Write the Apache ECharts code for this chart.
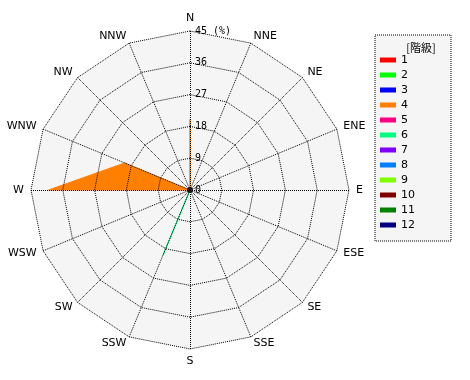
<!DOCTYPE html>
<html><head><meta charset="utf-8">
<script src="https://cdn.jsdelivr.net/npm/echarts@6/dist/echarts.min.js"></script>
<style>html,body{margin:0;padding:0;background:#fff}#c{width:470px;height:380px}</style>
</head><body><div id="c"></div>
<script>
// Directions in clockwise order starting from North
const directions = ['N','NNE','NE','ENE','E','ESE','SE','SSE','S','SSW','SW','WSW','W','WNW','NW','NNW'];
const radiusTicks = [0, 9, 18, 27, 36, 45];
const classNames = ['1','2','3','4','5','6','7','8','9','10','11','12'];
const classColors = ['#ff0000','#00ff00','#0000ff','#ff8000','#ff0080','#00ff80','#8000ff','#0080ff','#80ff00','#800000','#008000','#000080'];
// Frequency (%) per direction, same order as directions
const class1  = [0,0,0,0,0,0,0,0,0,0,0,0,0,0,0,0];
const class2  = [0,0,0,0,0,0,0,0,0,0,0,0,0,0,0,0];
const class3  = [0,0,0,0,0,0,0,0,0,0,0,0,0,0,0,0];
const class4  = [20,0,0,0,0,0,0,0,0,0,0,0,40,20,0,0];
const class5  = [0,0,0,0,0,0,0,0,0,0,0,0,0,0,0,0];
const class6  = [0,0,0,0,0,0,0,0,0,20,0,0,0,0,0,0];
const class7  = [0,0,0,0,0,0,0,0,0,0,0,0,0,0,0,0];
const class8  = [0,0,0,0,0,0,0,0,0,0,0,0,0,0,0,0];
const class9  = [0,0,0,0,0,0,0,0,0,0,0,0,0,0,0,0];
const class10 = [0,0,0,0,0,0,0,0,0,0,0,0,0,0,0,0];
const class11 = [0,0,0,0,0,0,0,0,0,0,0,0,0,0,0,0];
const class12 = [0,0,0,0,0,0,0,0,0,0,0,0,0,0,0,0];
const classData = [class1,class2,class3,class4,class5,class6,class7,class8,class9,class10,class11,class12];

const rMax = radiusTicks[radiusTicks.length-1];
const rStep = radiusTicks[1]-radiusTicks[0];
// radar lays indicators counter-clockwise, so reverse the order (keeping N first)
const order = directions.map((d,i)=> (directions.length - i) % directions.length);
const indicator = order.map(i=>({name: directions[i], min:0, max:rMax}));

const dottedRing = {color:'#000', width:1, type:[1,1]};
const dottedSpoke = {color:'#000', width:1, type:[1,1], cap:'butt'};
const C = [190,190], R = 159;
const chart = echarts.init(document.getElementById('c'));
const series = classNames.map((n,k)=>({
  name:n, type:'radar', radarIndex:0, symbol:'none', z:1, silent:true,
  itemStyle:{color:classColors[k]},
  lineStyle:{color:classColors[k], width:1},
  areaStyle:{color:classColors[k], opacity:1},
  data:[{value: order.map(i=>classData[k][i]), name:n}]
}));
series.push({type:'scatter', coordinateSystem:'polar', data:[[0,0]], symbolSize:6, itemStyle:{color:'#000'}, z:5, silent:true});
chart.setOption({
  animation:false,
  backgroundColor:'#fff',
  title:{text:'[階級]', left:416, top:37, textAlign:'center', z:10,
    textStyle:{fontSize:11, fontWeight:'normal', color:'#000', fontFamily:'Noto Sans CJK JP'}},
  legend:{orient:'vertical', left:375, top:35, data:classNames, icon:'rect', itemWidth:16, itemHeight:5,
    itemGap:3, selectedMode:false, backgroundColor:'#f5f5f5', borderColor:'#000', borderWidth:1, borderType:'dotted',
    padding:[19,36,10,5],
    textStyle:{fontSize:11, lineHeight:12, color:'#000', fontFamily:'DejaVu Sans'}},
  radar:[{
    center:C, radius:R, startAngle:90, shape:'polygon', splitNumber:5, indicator, z:0,
    nameGap:7, axisName:{color:'#000', fontSize:11, fontFamily:'DejaVu Sans'},
    splitArea:{show:true, areaStyle:{color:['#f5f5f5']}},
    splitLine:{show:false}, axisLine:{show:false}, axisTick:{show:false}, axisLabel:{show:false}
  },{
    center:C, radius:R, startAngle:90, shape:'polygon', splitNumber:5, indicator, z:3,
    axisName:{show:false}, splitArea:{show:false},
    splitLine:{show:true, lineStyle:dottedRing}, axisLine:{show:true, lineStyle:dottedSpoke},
    axisTick:{show:false}, axisLabel:{show:false}
  }],
  polar:{center:C, radius:R, z:4},
  angleAxis:{type:'value', min:0, max:360, startAngle:90, show:false},
  radiusAxis:{type:'value', min:0, max:rMax, interval:rStep, z:4,
    axisLine:{show:false}, axisTick:{show:false}, splitLine:{show:false}, splitArea:{show:false},
    axisLabel:{margin:-5, align:'left', color:'#000', fontSize:10, fontFamily:'DejaVu Sans Mono', padding:[0,0,6,0],
      formatter:v=> v===rMax ? v+' (%)' : String(v)}},
  series
});
</script></body></html>
